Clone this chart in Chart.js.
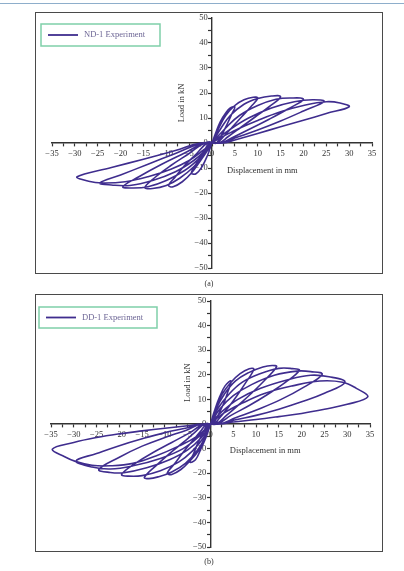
<!DOCTYPE html>
<html lang="en">
<head>
  <meta charset="UTF-8">
  <title>ND-1 / DD-1 hysteresis</title>
  <script src="https://cdn.jsdelivr.net/npm/chart.js"></script>
  <style>
    html, body {
      margin: 0;
      padding: 0;
      width: 404px;
      height: 571px;
      overflow: hidden;
      background: #ffffff;
      font-family: "Liberation Serif", serif;
    }
    .topline {
      position: absolute;
      left: 0; top: 3px;
      width: 404px; height: 1px;
      background: #8eaecb;
    }
    .frame {
      position: absolute;
      left: 35px;
      width: 346px;
      border: 1.5px solid #4a4a4a;
    }
    canvas {
      position: absolute;
      left: 0;
    }
    .caption {
      position: absolute;
      left: 0; width: 418px;
      text-align: center;
      font-size: 8px;
      color: #333;
    }
  </style>
</head>
<body>
  <div class="topline"></div>

  <div class="frame" style="top:12px; height:260px;"></div>
  <canvas id="chartA" width="404" height="285" style="top:0px;"></canvas>
  <div class="caption" style="top:279px;">(a)</div>

  <div class="frame" style="top:294px; height:256px;"></div>
  <canvas id="chartB" width="404" height="285" style="top:285px;"></canvas>
  <div class="caption" style="top:557px;">(b)</div>

  <script>
    // ND-1 cycles [displacement mm, load kN]
    const nd1Loop5 = [[0.8,4],[1.8,8.5],[3,12],[4,14],[5,14.5],[4.3,11.5],[3.3,7.5],[2.2,3.5],[1,0],
      [-0.5,0],[-2,-4],[-3.5,-8.5],[-4.5,-12],[-3.5,-12.3],[-2.2,-9.5],[-1,-5],[0,0]];
    const nd1Loop10 = [[1.5,6],[3,11],[5,15],[7,17.3],[9,18.3],[10,18],[8.5,14.5],[6.5,10.5],[4.5,6.5],[2.5,2.5],[1,0],
      [-1,0],[-3.5,-4.5],[-6,-9],[-8,-13.5],[-9.5,-17],[-8.5,-17.5],[-6.5,-15.5],[-4.5,-12],[-2.5,-7],[-1,-3],[0,0]];
    const nd1Loop15 = [[2,6],[4,11],[7,15.5],[10,17.8],[13,18.8],[15,18.5],[12.5,14.5],[9.5,10.5],[6.5,6.5],[3.5,2.5],[1.5,0],
      [-1.5,0],[-5,-4.2],[-9,-9],[-12.5,-13.8],[-14.7,-17.8],[-13,-18.2],[-10,-17],[-7,-14],[-4,-9.5],[-2,-5],[0,0]];
    const nd1Loop20 = [[3,6],[6,11],[10,15],[14,17.5],[17,18],[20,17.5],[16.5,13.5],[12.5,9.5],[8.5,5.8],[4.5,2.2],[2,0],
      [-1.5,0],[-6,-4],[-11,-8.5],[-16,-13.5],[-19.5,-17.5],[-17.5,-18],[-14,-17.5],[-10,-15],[-6,-11],[-3,-6.5],[-1,-2.5],[0,0]];
    const nd1Loop25 = [[4,5.5],[8,10],[13,14],[18,16.5],[22,17.3],[24.5,16.6],[20,12.8],[15,8.8],[10,5.2],[5,2],[2,0],
      [-2,0],[-8,-4.2],[-14,-8.5],[-20,-12.8],[-24.5,-16],[-22,-16.8],[-18,-17],[-13,-15],[-8,-11.5],[-4,-7],[-1.5,-3],[0,0]];
    const nd1Loop30 = [[5,5],[10,9],[15,12.5],[20,15],[25,16.5],[28,16],[30,14.5],[25,11.8],[20,9.1],[15,6.5],[10,3.8],[5,1.2],[2.5,0],
      [-2.5,0],[-8,-3],[-15,-6.5],[-22,-9.8],[-29.5,-13.5],[-27,-15.3],[-24,-16],[-19,-15.5],[-14,-13.5],[-9,-10.5],[-5,-7],[-2,-3],[0,0]];

    // DD-1 cycles [displacement mm, load kN]
    const dd1Loop5 = [[1,6],[2,11],[3.2,15.5],[4.5,17.5],[3.7,12.5],[2.7,7.5],[1.5,3],[0.5,0],
      [-0.5,0],[-1.5,-3],[-2.7,-7.5],[-3.7,-12],[-4.5,-15.5],[-3.3,-14.5],[-2.2,-10.5],[-1,-5.5],[0,0]];
    const dd1Loop10 = [[1,6],[2.5,12],[4.5,17],[6.5,20.5],[8.5,22.5],[9.5,22.3],[7.8,17],[5.8,11.5],[3.8,6.5],[1.8,2],[0.8,0],
      [-0.8,0],[-2,-2.5],[-4,-7],[-6,-11.5],[-7.8,-16],[-9.5,-20],[-8.5,-20.5],[-6.5,-18.5],[-4.5,-15],[-2.5,-10.5],[-1,-5],[0,0]];
    const dd1Loop15 = [[1.2,6],[3,12],[5.5,17.5],[8.5,21],[11.5,23.2],[13.5,23.8],[14.5,23.3],[12,18],[9,12.5],[6,7.5],[3.5,3.5],[1.2,0],
      [-1.2,0],[-3.5,-3.5],[-6,-7.5],[-9,-12],[-12,-17],[-14.5,-21.7],[-13.5,-22.2],[-11.5,-21.5],[-8.5,-19.5],[-5.5,-16],[-3,-11],[-1.2,-5.5],[0,0]];
    const dd1Loop20 = [[1.5,6],[4,12],[7,17],[11,20.5],[15,22.6],[18,22.5],[19.5,21.8],[16.5,17],[12.5,12],[8.5,7.5],[4.5,3.5],[1.5,0],
      [-1.5,0],[-4.5,-3.5],[-8.5,-7.5],[-12.5,-11.5],[-16.5,-16],[-19.5,-20.5],[-18,-21.2],[-15,-21],[-11,-19],[-7,-15.5],[-4,-11],[-1.5,-5.5],[0,0]];
    const dd1Loop25 = [[2,6],[5,11.5],[9,16],[14,19.8],[19,21.5],[22,21.3],[24.5,20.2],[20.5,15],[15.5,10],[10.5,6],[5.5,2.5],[2,0],
      [-2,0],[-5,-2.3],[-10,-5.5],[-15,-9],[-20,-13.5],[-24.5,-18.5],[-22,-19.7],[-19,-19.8],[-14,-17.8],[-9,-14.5],[-5,-10.5],[-2,-5.5],[0,0]];
    const dd1Loop30 = [[2.5,5],[6,10],[11,14.5],[17,18],[22,19.8],[26,19.2],[29.5,17],[25,12.5],[20,9],[15,6],[10,3.5],[5,1.5],[2,0],
      [-2,0],[-5,-1.5],[-10,-3.5],[-15,-6],[-20,-8.8],[-25,-12],[-29.5,-15],[-26,-17.5],[-22,-18.3],[-17,-17],[-11,-14],[-6,-10],[-2.5,-5],[0,0]];
    const dd1Loop35 = [[3,4.5],[7,8.5],[12,12.5],[18,15.5],[24,17.5],[29,17],[32,14.5],[34.5,11],[30,8],[25,6],[20,4.3],[15,3],[10,1.8],[5,0.8],[2,0],
      [-2,0],[-5,-0.7],[-10,-1.7],[-15,-2.8],[-20,-4],[-25,-5.5],[-30,-7.5],[-34.7,-10.2],[-32,-13.3],[-29.5,-15.3],[-26,-16.8],[-22,-17],[-17,-16],[-12,-13],[-7,-9],[-3,-5],[0,0]];

    const xTicks = [-35, -30, -25, -20, -15, -10, -5, 0, 5, 10, 15, 20, 25, 30, 35];
    const yTicks = [-50, -40, -30, -20, -10, 0, 10, 20, 30, 40, 50];

    const lineColor = "#3f2d8e";
    const inkColor = "#333333";
    const serif = "'Liberation Serif', 'DejaVu Serif', serif";

    function toPoints(loops) {
      const pts = [{ x: 0, y: 0 }];
      loops.forEach(loop => loop.forEach(p => pts.push({ x: p[0], y: p[1] })));
      return pts;
    }

    const fmt = v => (v < 0 ? "\u2212" + Math.abs(v) : String(v));

    // axis titles + framed legend drawn inside the plot
    const annotPlugin = {
      id: "annot",
      afterDraw(chart, args, opts) {
        const ctx = chart.ctx;
        const sx = chart.scales.x, sy = chart.scales.y;
        ctx.save();
        ctx.fillStyle = inkColor;
        ctx.font = "8.5px " + serif;
        ctx.textAlign = "center";
        ctx.textBaseline = "middle";
        ctx.fillText("Displacement in mm", sx.getPixelForValue(opts.xTitleAt[0]), sy.getPixelForValue(opts.xTitleAt[1]));
        ctx.save();
        ctx.translate(sx.getPixelForValue(opts.yTitleAt[0]), sy.getPixelForValue(opts.yTitleAt[1]));
        ctx.rotate(-Math.PI / 2);
        ctx.fillText("Load in kN", 0, 0);
        ctx.restore();

        const b = opts.box;
        ctx.strokeStyle = "#7fcfa9";
        ctx.lineWidth = 1.5;
        ctx.fillStyle = "#ffffff";
        ctx.fillRect(b.x, b.y, b.w, b.h);
        ctx.strokeRect(b.x, b.y, b.w, b.h);
        const cy = b.y + b.h / 2;
        ctx.strokeStyle = lineColor;
        ctx.lineWidth = 1.8;
        ctx.beginPath();
        ctx.moveTo(b.x + 7, cy);
        ctx.lineTo(b.x + 37, cy);
        ctx.stroke();
        ctx.fillStyle = "#6e6796";
        ctx.font = "8.5px " + serif;
        ctx.textAlign = "left";
        ctx.fillText(chart.data.datasets[0].label, b.x + 43, cy);
        ctx.restore();
      }
    };

    function makeChart(id, label, loops, pad, annot) {
      return new Chart(document.getElementById(id), {
        type: "scatter",
        data: {
          datasets: [{
            label: label,
            data: toPoints(loops),
            showLine: true,
            borderColor: lineColor,
            borderWidth: 1.6,
            pointRadius: 0,
            tension: 0.4,
            fill: false
          }]
        },
        options: {
          responsive: false,
          animation: false,
          devicePixelRatio: 1,
          layout: { padding: pad },
          plugins: {
            legend: { display: false },
            tooltip: { enabled: false },
            annot: annot
          },
          scales: {
            x: {
              type: "linear",
              min: -35, max: 35,
              position: { y: 0 },
              afterBuildTicks: s => {
                const t = [];
                xTicks.forEach((v, i) => {
                  t.push({ value: v });
                  if (i < xTicks.length - 1) t.push({ value: v + 2.5 });
                });
                s.ticks = t;
              },
              ticks: {
                autoSkip: false, maxRotation: 0, padding: 3,
                color: inkColor, font: { family: serif, size: 8.5 },
                callback: v => (xTicks.includes(v) ? fmt(v) : "")
              },
              grid: { drawOnChartArea: false, drawTicks: true, tickLength: 3, tickColor: inkColor, tickWidth: 1.2 },
              border: { color: inkColor, width: 1.4 }
            },
            y: {
              type: "linear",
              min: -50, max: 50,
              position: { x: 0 },
              afterBuildTicks: s => {
                const t = [];
                yTicks.forEach((v, i) => {
                  t.push({ value: v });
                  if (i < yTicks.length - 1) t.push({ value: v + 5 });
                });
                s.ticks = t;
              },
              ticks: {
                autoSkip: false, padding: 1,
                color: inkColor, font: { family: serif, size: 8.5 },
                // trailing space keeps the right-aligned labels clear of the axis
                callback: v => (yTicks.includes(v) ? fmt(v) + "\u2002" : "")
              },
              grid: { drawOnChartArea: false, drawTicks: true, tickLength: 3, tickColor: inkColor, tickWidth: 1.2 },
              border: { color: inkColor, width: 1.4 }
            }
          }
        },
        plugins: [annotPlugin]
      });
    }

    makeChart("chartA", "ND-1 Experiment",
      [nd1Loop5, nd1Loop10, nd1Loop15, nd1Loop20, nd1Loop25, nd1Loop30],
      { left: 52, right: 32, top: 18, bottom: 17 },
      { xTitleAt: [11, -11], yTitleAt: [-6.6, 16], box: { x: 41, y: 24, w: 119, h: 22 } });

    makeChart("chartB", "DD-1 Experiment",
      [dd1Loop5, dd1Loop10, dd1Loop15, dd1Loop20, dd1Loop25, dd1Loop30, dd1Loop35],
      { left: 51, right: 34, top: 16, bottom: 23 },
      { xTitleAt: [12, -10.8], yTitleAt: [-5, 16.8], box: { x: 39, y: 22, w: 118, h: 21 } });
  </script>
</body>
</html>
